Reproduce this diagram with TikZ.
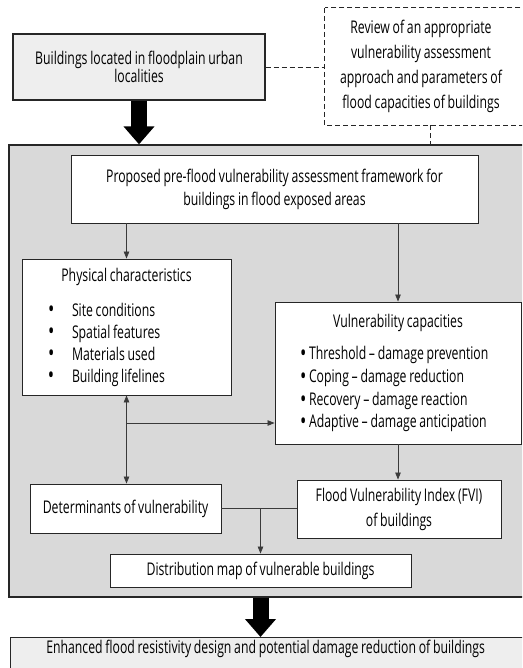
\documentclass[tikz,border=0pt]{standalone}
\usepackage{fontspec}
\setmainfont[FakeStretch=0.70,WordSpace=0.85]{Open Sans}
\usetikzlibrary{arrows.meta}
\definecolor{biggray}{HTML}{D9D9D9}
\definecolor{lightfill}{HTML}{EEEEEE}
\definecolor{edge}{HTML}{262626}
\definecolor{conn}{HTML}{3A3A3A}
\newcommand{\bigbul}{\raisebox{-1.8pt}{\fontsize{24}{10}\selectfont\textbullet}}
\begin{document}
\begin{tikzpicture}[x=1pt,y=-1pt,
  box/.style={draw=edge, line width=0.9pt, fill=white, inner sep=0pt, align=center},
  fs/.style={font=\fontsize{17.5}{#1}\selectfont},
  arr/.style={draw=conn, line width=0.8pt, -{Triangle[length=7pt,width=5.5pt]}},
  dblarr/.style={draw=conn, line width=0.8pt, {Triangle[length=7pt,width=5.5pt]}-{Triangle[length=7pt,width=5.5pt]}},
  plain/.style={draw=conn, line width=0.8pt},
  dsh/.style={draw=edge, line width=0.8pt, dash pattern=on 5pt off 3pt},
  bigarrow/.style={line width=16pt, black, -{Triangle[length=18pt,width=30pt]}}
]
\useasboundingbox (0,0) rectangle (522,668);
\clip (0,0) rectangle (522,668);

% outer frame
\node[draw=edge, line width=1.3pt, fill=biggray, minimum width=521pt, minimum height=452pt, inner sep=0pt] (big) at (269.5,371) {};

% top boxes
\node[box, line width=1.2pt, fill=lightfill, minimum width=252pt, minimum height=66pt, fs=17] (bld) at (139,67)
  {Buildings located in floodplain urban\\localities};
\node[inner sep=0pt, align=center, minimum width=192pt, minimum height=117pt, fs=25] (rev) at (421,66.5)
  {Review of an appropriate\\vulnerability assessment\\approach and parameters of\\flood capacities of buildings};
\draw[dsh] (rev.north west) rectangle ([xshift=20pt]rev.south east);

% inner boxes
\node[box, minimum width=407pt, minimum height=68pt, fs=23] (prop) at (274.5,189)
  {Proposed pre-flood vulnerability assessment framework for\\buildings in flood exposed areas};
\node[box, minimum width=209pt, minimum height=136pt, align=left, fs=22] (phys) at (126.5,327)
  {\makebox[209pt]{Physical characteristics}\\[13pt]
   \hspace*{26pt}\makebox[24pt][l]{\bigbul}Site conditions\\
   \hspace*{26pt}\makebox[24pt][l]{\bigbul}Spatial features\\
   \hspace*{26pt}\makebox[24pt][l]{\bigbul}Materials used\\
   \hspace*{26pt}\makebox[24pt][l]{\bigbul}Building lifelines};
\node[box, minimum width=246pt, minimum height=142pt, align=left, fs=22.7] (vuln) at (398,373)
  {\makebox[246pt]{Vulnerability capacities}\\[10pt]
   \hspace*{25pt}\makebox[9pt][l]{\bigbul}Threshold -- damage prevention\\
   \hspace*{25pt}\makebox[9pt][l]{\bigbul}Coping -- damage reduction\\
   \hspace*{25pt}\makebox[9pt][l]{\bigbul}Recovery -- damage reaction\\
   \hspace*{25pt}\makebox[9pt][l]{\bigbul}Adaptive -- damage anticipation};
\node[box, minimum width=191pt, minimum height=49pt, fs=20] (det) at (125.5,508.5)
  {Determinants of vulnerability};
\node[box, minimum width=204pt, minimum height=58pt, fs=25] (fvi) at (399,509)
  {Flood Vulnerability Index (FVI)\\of buildings};
\node[box, minimum width=301pt, minimum height=33pt, fs=20] (dist) at (260.5,570.5)
  {Distribution map of vulnerable buildings};

% bottom box
\node[box, line width=1.2pt, fill=lightfill, minimum width=520pt, anchor=north west, inner ysep=2pt,
  text height=14pt, text depth=40pt, fs=20] (enh) at (10,637)
  {\hspace*{-10pt}Enhanced flood resistivity design and potential damage reduction of buildings};

% connectors
\draw[bigarrow] (bld.south) -- (bld.south |- big.north);
\draw[dsh] (bld.east) -- (bld.east -| rev.west);
\draw[dsh] ([xshift=9pt]rev.south) -- ([xshift=9pt]rev.south |- big.north);
\draw[arr] (prop.south -| phys.north) -- (phys.north);
\draw[arr] (prop.south -| vuln.north) -- (vuln.north);
\draw[dblarr] (phys.south) -- (phys.south |- det.north);
\coordinate (j) at (126.5,423);
\draw[arr] (j) -- (j -| vuln.west);
\draw[arr] (vuln.south) -- (vuln.south |- fvi.north);
\draw[plain] (det.east) -- (det.east -| fvi.west);
\draw[arr] (dist.north |- det.east) -- (dist.north);
\draw[bigarrow] (dist.south |- big.south) -- (dist.south |- enh.north);
\end{tikzpicture}
\end{document}
